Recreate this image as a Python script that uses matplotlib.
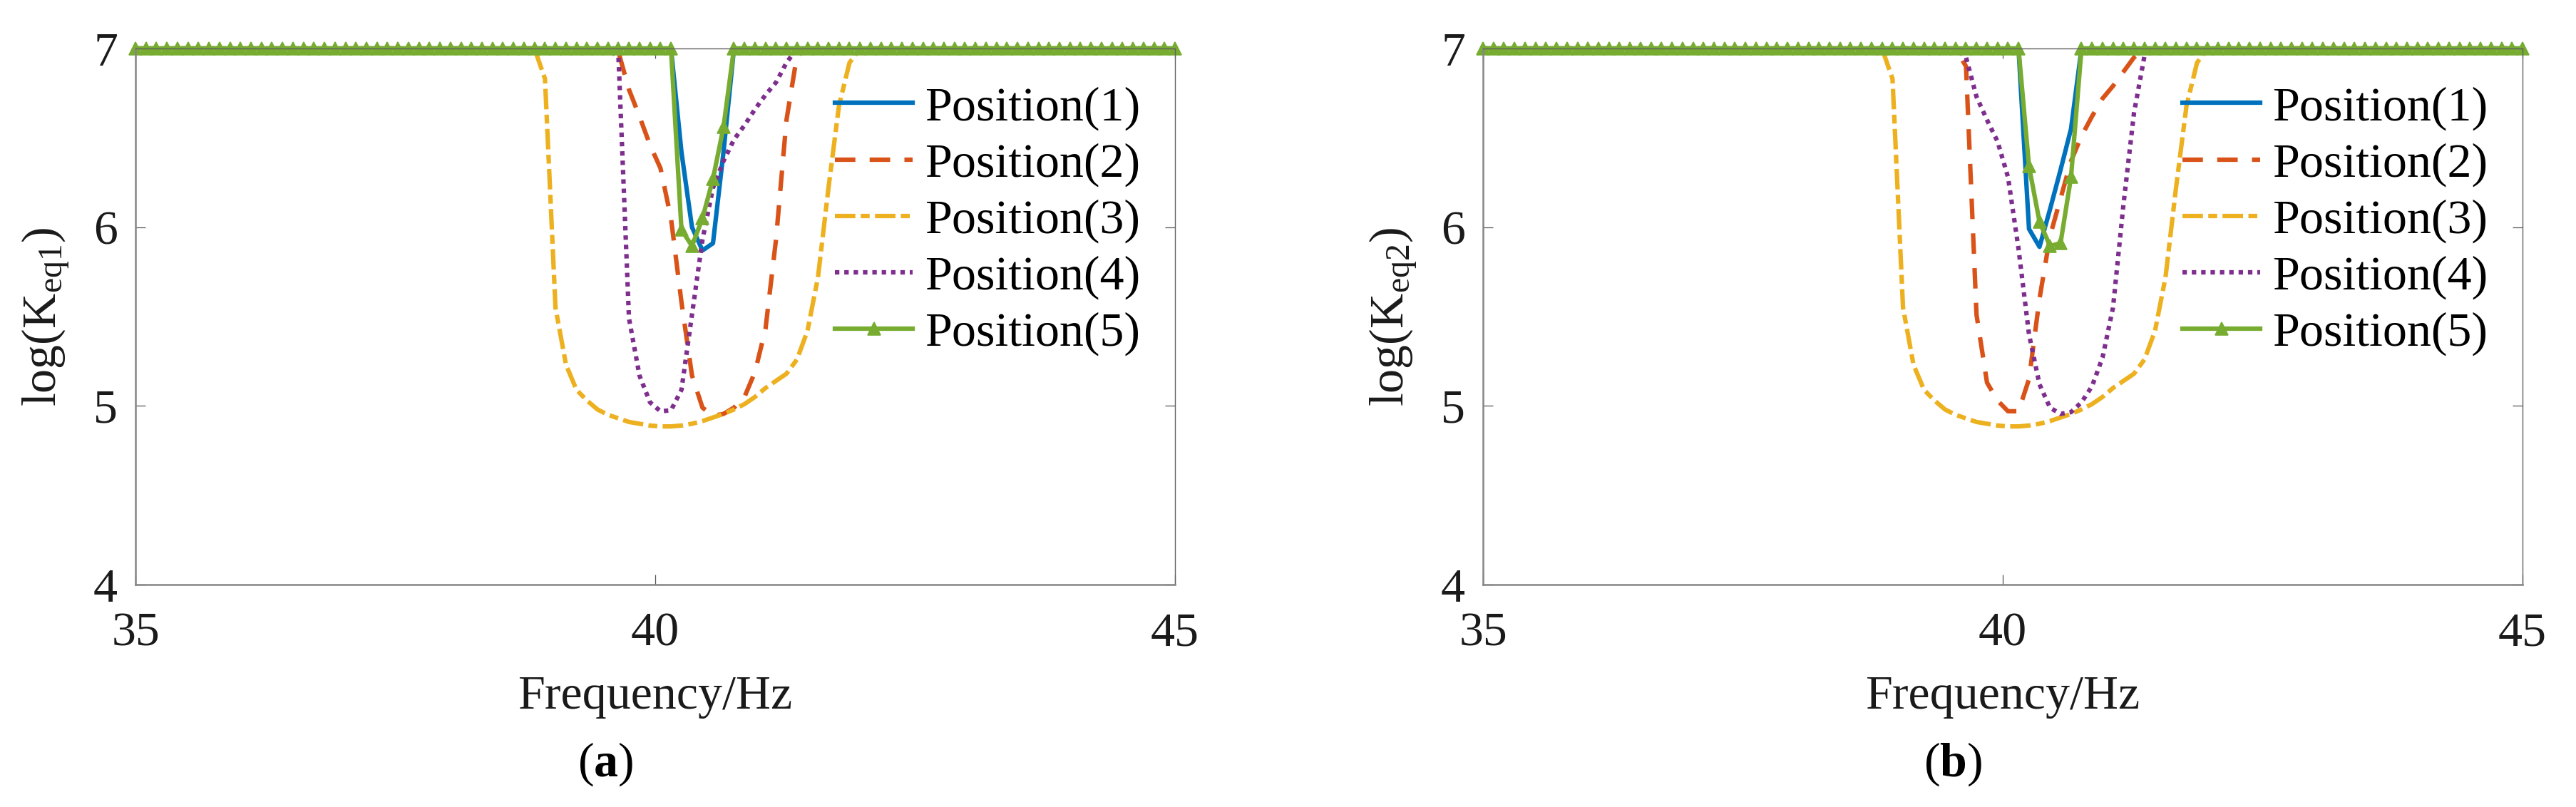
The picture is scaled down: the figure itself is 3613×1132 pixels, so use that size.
import numpy as np
import matplotlib
matplotlib.use("Agg")
import matplotlib.pyplot as plt

plt.rcParams['font.family'] = 'serif'
plt.rcParams['font.serif'] = ['Liberation Serif', 'DejaVu Serif']
plt.rcParams['mathtext.fontset'] = 'custom'
plt.rcParams['mathtext.rm'] = 'Liberation Serif'
plt.rcParams['mathtext.it'] = 'Liberation Serif:italic'
plt.rcParams['mathtext.bf'] = 'Liberation Serif:bold'
plt.rcParams['mathtext.default'] = 'regular'

# frequency grid (100 samples between 35 and 45 Hz); values above 7 are capped at 7
freq = np.linspace(35, 45, 100)
cap = 7.0
dip_start = 38  # first sample index of the stored values below

# log(Keq1), samples 38..69
a_pos1 = [7, 7, 7, 7, 7, 7, 7, 7, 7, 7, 7, 7, 7, 7, 6.42, 6.0, 5.87, 5.91, 6.42, 7]
a_pos2 = [7, 7, 7, 7, 7, 7, 7, 7, 6.98, 6.77, 6.62, 6.46, 6.33, 6.05, 5.58, 5.17,
          4.99, 4.945, 4.955, 4.99, 5.05, 5.19, 5.43, 5.93, 6.6, 6.96, 7]
a_pos4 = [7, 7, 7, 7, 7, 7, 7, 7, 6.95, 5.49, 5.17, 5.02, 4.97, 4.975, 5.09, 5.51,
          5.93, 6.22, 6.37, 6.49, 6.57, 6.66, 6.74, 6.81, 6.92, 7]
a_pos5 = [7, 7, 7, 7, 7, 7, 7, 7, 7, 7, 7, 7, 7, 7, 5.985, 5.895, 6.05, 6.27, 6.56, 7]

# log(Keq2), samples 38..69
b_pos1 = [7, 7, 7, 7, 7, 7, 7, 7, 7, 7, 7, 7, 7, 7, 5.99, 5.89, 6.1, 6.32, 6.55, 7]
b_pos2 = [7, 7, 7, 7, 7, 7, 7, 7, 6.9, 5.51, 5.13, 5.03, 4.97, 4.97, 5.15, 5.6,
          5.95, 6.16, 6.37, 6.51, 6.62, 6.72, 6.79, 6.87, 6.95, 7]
b_pos4 = [7, 7, 7, 7, 7, 7, 7, 7, 6.95, 6.73, 6.6, 6.48, 6.28, 5.88, 5.4, 5.12,
          4.99, 4.955, 4.965, 5.02, 5.11, 5.27, 5.55, 6.13, 6.64, 6.96, 7]
b_pos5 = [7, 7, 7, 7, 7, 7, 7, 7, 7, 7, 7, 7, 7, 7, 6.34, 6.03, 5.895, 5.91, 6.28, 7]

# Position(3) is the same in both panels
pos3 = [7.0, 6.83, 5.55, 5.23, 5.09, 5.03, 4.98, 4.95, 4.93, 4.91, 4.9, 4.89, 4.885,
        4.885, 4.89, 4.9, 4.915, 4.935, 4.955, 4.98, 5.01, 5.05, 5.1, 5.14, 5.18,
        5.26, 5.42, 5.72, 6.22, 6.68, 6.92, 7.0]

labels = ['Position(1)', 'Position(2)', 'Position(3)', 'Position(4)', 'Position(5)']
colors = ['#0072BD', '#D95319', '#EDB120', '#7E2F8E', '#77AC30']
dashes = [None, (4.6, 3.2), (4.6, 1.2, 2.0, 1.2), (1, 1.1), None]


def full_series(vals):
    y = np.full(len(freq), cap)
    y[dip_start:dip_start + len(vals)] = vals
    return y


panels = [
    ('a', r'log(K$_{eq1}$)', [a_pos1, a_pos2, pos3, a_pos4, a_pos5]),
    ('b', r'log(K$_{eq2}$)', [b_pos1, b_pos2, pos3, b_pos4, b_pos5]),
]

W, H = 3613, 1132
fig = plt.figure(figsize=(W / 100, H / 100), dpi=100)
fs = 49
ax_left = [190, 2080]
ax_w, ax_top, ax_bot = 1458, 68, 820

for (tag, ylab, series), x0 in zip(panels, ax_left):
    ax = fig.add_axes([x0 / W, 1 - ax_bot / H, ax_w / W, (ax_bot - ax_top) / H])
    for vals, lab, c, d in zip(series, labels, colors, dashes):
        kw = dict(color=c, lw=4.5, label=lab, clip_on=False,
                  dash_capstyle='butt')
        if d is not None:
            kw['dashes'] = d
        if lab == 'Position(5)':
            kw.update(marker='^', ms=13, mec=c, mfc=c, mew=1.2)
        ax.plot(freq, full_series(vals), **kw)
    ax.set_xlim(35, 45)
    ax.set_ylim(4, 7)
    ax.set_xticks([35, 40, 45])
    ax.set_yticks([4, 5, 6, 7])
    ax.tick_params(direction='in', top=True, right=True, length=10, width=0.9,
                   color='#555555', labelsize=fs, labelcolor='#1a1a1a')
    ax.tick_params(axis='x', pad=28)
    ax.tick_params(axis='y', pad=18)
    for s in ['left', 'bottom']:
        ax.spines[s].set_color('#858585')
        ax.spines[s].set_linewidth(1.8)
    for s in ['top', 'right']:
        ax.spines[s].set_color('#606060')
        ax.spines[s].set_linewidth(1.0)
    ax.set_ylabel(ylab, fontsize=fs, color='#1a1a1a')
    ax.yaxis.set_label_coords(-0.062, 0.5)
    ax.legend(loc='upper left', bbox_to_anchor=(0.673, 0.93), frameon=False,
              fontsize=fs, handlelength=1.6, handletextpad=0.25,
              labelspacing=0.25, borderpad=0, borderaxespad=0)
    cx = (x0 + ax_w / 2) / W
    fig.text(cx, 1 - 978 / H, 'Frequency/Hz', fontsize=fs, ha='center',
             va='center', color='#1a1a1a')
    fig.text(cx - 70 / W, 1 - 1072 / H, '(' + r'$\mathbf{' + tag + '}$' + ')',
             fontsize=fs, ha='center', va='center', color='black')

fig.savefig('out.png', dpi=100)
